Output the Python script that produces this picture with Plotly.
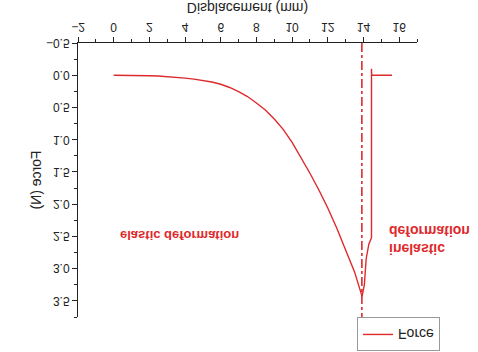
import plotly.graph_objects as go

# Displacement (mm) and Force (N)
displacement = [0, 0.5, 1, 1.5, 2, 2.5, 3, 3.5, 4, 4.5, 5, 5.5, 6, 6.5, 7, 7.5, 8, 8.5, 9, 9.5,
                10, 10.5, 11, 11.5, 12, 12.5, 13, 13.5, 13.92,
                14.05, 14.15, 14.3, 14.45, 14.45, 14.46, 15.6]
force = [0, 0.0, 0.002, 0.004, 0.007, 0.012, 0.02, 0.03, 0.045, 0.06, 0.08, 0.105, 0.14, 0.19,
         0.255, 0.33, 0.43, 0.54, 0.68, 0.84, 1.04, 1.27, 1.52, 1.78, 2.06, 2.37, 2.70, 3.05, 3.43,
         3.25, 2.85, 2.62, 2.52, -0.10, 0.0, 0.0]
break_x = 13.91

x_ticks = [-2, 0, 2, 4, 6, 8, 10, 12, 14, 16]
y_ticks = [-0.5, 0.0, 0.5, 1.0, 1.5, 2.0, 2.5, 3.0, 3.5]

RED = "#de2a2c"
FONT = "Liberation Sans, Arial, sans-serif"
INK = "#222"

fig = go.Figure()
fig.add_trace(go.Scatter(x=displacement, y=force, mode="lines", name="Force",
                         line=dict(color=RED, width=1.4)))

fig.add_shape(type="line", xref="x", yref="paper", x0=break_x, x1=break_x, y0=0, y1=1,
              line=dict(color=RED, width=1.6, dash="dashdot"))

fig.add_annotation(x=3.7, y=2.48, xref="x", yref="y", text="<b>elastic deformation</b>",
                   showarrow=False, font=dict(color=RED, size=13, family=FONT))
fig.add_annotation(x=15.33, y=2.55, xref="x", yref="y", text="<b>inelastic<br>deformation</b>",
                   showarrow=False, xanchor="left", align="left",
                   font=dict(color=RED, size=14, family=FONT))

axis_common = dict(showline=True, linecolor=INK, linewidth=1, ticks="outside",
                   ticklen=5, tickcolor=INK, showgrid=False, zeroline=False, automargin=False,
                   tickfont=dict(size=12, color=INK, family=FONT),
                   minor=dict(ticks="outside", ticklen=3, tickcolor=INK))

fig.update_layout(
    width=478, height=352,
    margin=dict(l=78, r=61, t=35, b=43, autoexpand=False),
    paper_bgcolor="white", plot_bgcolor="white",
    font=dict(family=FONT, color=INK),
    xaxis=dict(range=[-2, 17], tickvals=x_ticks, minor_dtick=1,
               title=dict(text="Displacement (mm)", font=dict(size=14, family=FONT, color=INK),
                          standoff=12),
               **axis_common),
    yaxis=dict(range=[-0.5, 3.75], tickvals=y_ticks, tickformat=".1f", minor_dtick=0.25,
               title=dict(text="Force (N)", font=dict(size=14, family=FONT, color=INK), standoff=0),
               **axis_common),
    legend=dict(xref="container", yref="container", x=0.747, y=0.949,
                xanchor="left", yanchor="middle", bordercolor="#999",
                borderwidth=1, font=dict(size=14, family=FONT, color=INK), bgcolor="white",
                tracegroupgap=0, itemwidth=30),
    showlegend=True,
)

post = ("var d=document.getElementById('{plot_id}'); d.style.transform='scaleY(-1)';"
        " d.style.transformOrigin='50% 50%'; document.body.style.margin='0';")
fig.write_html("out.html", default_width="478px", default_height="352px", post_script=post)
